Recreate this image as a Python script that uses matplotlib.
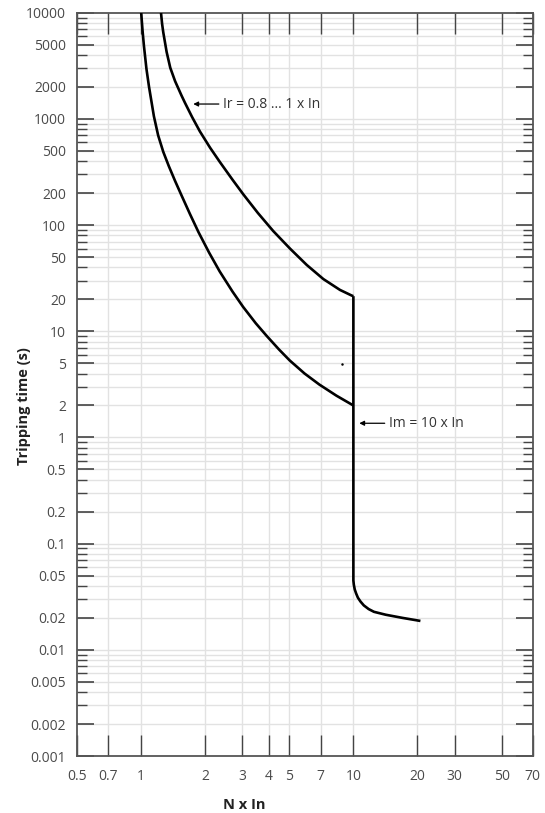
import matplotlib
matplotlib.use("Agg")
import matplotlib.pyplot as plt
from matplotlib.ticker import FixedLocator, FixedFormatter, NullFormatter

# ---- data ----
lower_x = [1.0, 1.015, 1.03, 1.059, 1.089, 1.148, 1.202, 1.271, 1.349, 1.445, 1.549,
           1.698, 1.862, 2.089, 2.344, 2.692, 3.02, 3.467, 3.89, 4.467, 5.012, 5.888,
           6.918, 8.318, 10.0]
lower_y = [10000, 6760, 4900, 2950, 2000, 1059, 700, 489, 360, 260, 190.5,
           127, 85.9, 55.1, 36.6, 23.7, 17.0, 11.9, 9.11, 6.72, 5.31, 4.0,
           3.145, 2.475, 2.0]

upper_x = [1.24, 1.255, 1.271, 1.318, 1.371, 1.445, 1.549, 1.61, 1.738, 1.891, 2.111,
           2.35, 2.692, 3.03, 3.548, 4.19, 5.03, 6.03, 7.223, 8.65, 9.818, 10.0]
upper_y = [10000, 7834, 6525, 4271, 3032, 2265, 1660, 1411, 1040, 762, 536,
           392, 268, 194.5, 130, 87.9, 60.0, 42.1, 31.0, 24.5, 21.7, 21.4]

inst_x = [10.0, 10.0, 10.05, 10.15, 10.3, 10.5, 10.8, 11.2, 11.8, 12.5, 14.2, 17.0, 20.7]
inst_y = [21.4, 0.045, 0.041, 0.037, 0.034, 0.031, 0.0285, 0.0262, 0.0242, 0.0228, 0.0214,
          0.0200, 0.0187]

stray_x = [8.87]
stray_y = [4.9]

x_ticks = [0.5, 0.7, 1, 2, 3, 4, 5, 7, 10, 20, 30, 50, 70]
x_labels = ["0.5", "0.7", "1", "2", "3", "4", "5", "7", "10", "20", "30", "50", "70"]
y_ticks = [0.001, 0.002, 0.005, 0.01, 0.02, 0.05, 0.1, 0.2, 0.5, 1, 2, 5, 10, 20, 50,
           100, 200, 500, 1000, 2000, 5000, 10000]
y_labels = ["0.001", "0.002", "0.005", "0.01", "0.02", "0.05", "0.1", "0.2", "0.5", "1",
            "2", "5", "10", "20", "50", "100", "200", "500", "1000", "2000", "5000", "10000"]
y_minor = [m * 10.0 ** e for e in range(-3, 4) for m in (3, 4, 6, 7, 8, 9)]

ann1_text = "Ir = 0.8 ... 1 x In"
ann1_xy = (1.76, 1380)
ann1_txt = (2.43, 1380)
ann2_text = "Im = 10 x In"
ann2_xy = (10.66, 1.36)
ann2_txt = (14.7, 1.36)

plt.rcParams['font.family'] = ['Open Sans', 'DejaVu Sans']

fig = plt.figure(figsize=(5.45, 8.13), dpi=100)
W, H = 545, 813
left, right, top, bottom = 77.3, 532.7, 12.7, 756.0
ax = fig.add_axes([left / W, 1 - bottom / H, (right - left) / W, (bottom - top) / H])
ax.set_xscale('log')
ax.set_yscale('log')
ax.set_xlim(0.5, 70)
ax.set_ylim(0.001, 10000)

gridc = '#e2e2e2'
for xv in x_ticks[1:-1]:
    ax.axvline(xv, color=gridc, lw=1.0, zorder=0)
for yv in y_ticks[1:-1] + y_minor:
    if 0.001 < yv < 10000:
        ax.axhline(yv, color=gridc, lw=1.0, zorder=0)

ax.xaxis.set_major_locator(FixedLocator(x_ticks))
ax.xaxis.set_major_formatter(FixedFormatter(x_labels))
ax.xaxis.set_minor_locator(FixedLocator([]))
ax.xaxis.set_minor_formatter(NullFormatter())
ax.yaxis.set_major_locator(FixedLocator(y_ticks))
ax.yaxis.set_major_formatter(FixedFormatter(y_labels))
ax.yaxis.set_minor_locator(FixedLocator(y_minor))
ax.yaxis.set_minor_formatter(NullFormatter())

tc = '#444444'
ax.tick_params(axis='x', which='major', direction='in', length=15, width=1.0, color=tc,
               top=True, bottom=True, labelsize=10, labelcolor='#4a4a4a', pad=9)
ax.tick_params(axis='y', which='major', direction='in', length=12.5, width=1.2, color=tc,
               left=True, right=True, labelsize=10, labelcolor='#4a4a4a', pad=8)
ax.tick_params(axis='y', which='minor', direction='in', length=7.5, width=1.0, color=tc,
               left=True, right=True)
for s in ax.spines.values():
    s.set_color('#555555')
    s.set_linewidth(1.3)

lw = 1.9
for xs, ys in ((lower_x, lower_y), (upper_x, upper_y), (inst_x, inst_y)):
    ax.plot(xs, ys, color='black', lw=lw, solid_joinstyle='round',
            solid_capstyle='butt', zorder=3)
ax.scatter(stray_x, stray_y, s=0.6, color='black', zorder=3)

arrow = dict(arrowstyle='-|>', color='black', lw=0.9, mutation_scale=7, shrinkA=1, shrinkB=0)
ax.annotate(ann1_text, xy=ann1_xy, xytext=ann1_txt, ha='left', va='center', fontsize=10,
            color='#333333', arrowprops=arrow)
ax.annotate(ann2_text, xy=ann2_xy, xytext=ann2_txt, ha='left', va='center', fontsize=10,
            color='#333333', arrowprops=arrow)

ax.set_xlabel('N x In', fontsize=10.5, fontweight='bold', color='#222222')
ax.xaxis.set_label_coords((244 - left) / (right - left), -(805 - bottom) / (bottom - top))
ax.xaxis.label.set_va('center')
ax.set_ylabel('Tripping time (s)', fontsize=10.5, fontweight='bold', color='#222222')
ax.yaxis.set_label_coords((24 - left) / (right - left), (bottom - 406) / (bottom - top))
ax.yaxis.label.set_va('center')

fig.savefig('out.png', dpi=100)
